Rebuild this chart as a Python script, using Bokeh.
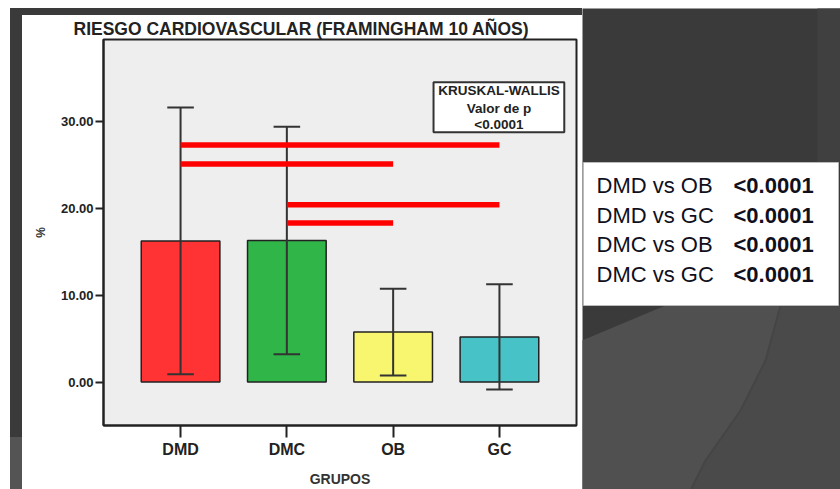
from bokeh.plotting import figure
from bokeh.layouts import row, column
from bokeh.models import Range1d, FixedTicker, NumeralTickFormatter, ColumnDataSource, Spacer
from bokeh.core.properties import value
from bokeh.embed import file_html
from bokeh.resources import INLINE

# ---------------- data ----------------
groups = ["DMD", "DMC", "OB", "GC"]
means = [16.25, 16.3, 5.75, 5.2]
errors = [15.35, 13.1, 5.0, 6.05]
bar_colors = ["#ff3333", "#2fb548", "#f8f56e", "#47c3c7"]

comp_from = ["DMD", "DMD", "DMC", "DMC"]
comp_to = ["GC", "OB", "GC", "OB"]
comp_level = [27.3, 25.1, 20.4, 18.3]

y_ticks = [0, 10, 20, 30]

kw_lines = ["KRUSKAL-WALLIS", "Valor de p", "<0.0001"]

pair_labels = ["DMD vs OB", "DMD vs GC", "DMC vs OB", "DMC vs GC"]
pair_pvalues = ["<0.0001", "<0.0001", "<0.0001", "<0.0001"]

FONT = "Liberation Sans"
DARK = "#3a3a3a"
LIGHT = "#505050"

# ---------------- main chart ----------------
xpos = [i + 1 for i in range(len(groups))]
idx = {g: i + 1 for i, g in enumerate(groups)}

p = figure(width=560, height=474,
           x_range=Range1d(0.275, 4.725), y_range=Range1d(-5.0, 39.43),
           output_backend="svg", toolbar_location=None,
           min_border_left=81, min_border_right=6,
           min_border_top=22, min_border_bottom=61,
           background_fill_color="#eeeeee", border_fill_color="white",
           outline_line_color="#222222", outline_line_width=2)
p.grid.visible = False

p.title.text = "RIESGO CARDIOVASCULAR (FRAMINGHAM 10 AÑOS)"
p.title.align = "left"
p.title.offset = -30
p.title.standoff = 2
p.title.text_font = FONT
p.title.text_font_size = "17.5px"
p.title.text_font_style = "bold"
p.title.text_color = "#222222"

src = ColumnDataSource(dict(
    x=xpos, top=means, color=bar_colors,
    lower=[m - e for m, e in zip(means, errors)],
    upper=[m + e for m, e in zip(means, errors)],
    cap_l=[x - 0.125 for x in xpos], cap_r=[x + 0.125 for x in xpos],
))
p.vbar(x="x", top="top", bottom=0, width=0.74, fill_color="color",
       line_color="#222222", line_width=1.5, source=src)
p.segment(x0="x", x1="x", y0="lower", y1="upper", line_color="#333333",
          line_width=2, source=src)
p.segment(x0="cap_l", x1="cap_r", y0="upper", y1="upper", line_color="#333333",
          line_width=2, source=src)
p.segment(x0="cap_l", x1="cap_r", y0="lower", y1="lower", line_color="#333333",
          line_width=2, source=src)

# significance lines
p.segment(x0=[idx[a] for a in comp_from], x1=[idx[b] for b in comp_to],
          y0=comp_level, y1=comp_level, line_color="#ff0000", line_width=5.5,
          line_cap="butt")

# Kruskal-Wallis box
kw_left, kw_right, kw_top, kw_bottom = 3.38, 4.61, 34.5, 28.75
p.quad(left=[kw_left], right=[kw_right], top=[kw_top], bottom=[kw_bottom],
       fill_color="white", line_color="#333333", line_width=2)
kw_y = [33.52, 31.5, 29.66]
p.text(x=[(kw_left + kw_right) / 2] * 3, y=kw_y, text=kw_lines,
       text_font=value(FONT), text_font_size="13.5px", text_font_style="bold",
       text_align="center", text_baseline="middle", text_color="#222222")

# axes
p.yaxis.ticker = FixedTicker(ticks=y_ticks)
p.yaxis.formatter = NumeralTickFormatter(format="0.00")
p.xaxis.ticker = FixedTicker(ticks=xpos)
p.xaxis.major_label_overrides = {x: g for x, g in zip(xpos, groups)}

for ax in (p.xaxis[0], p.yaxis[0]):
    ax.axis_line_color = "#222222"
    ax.axis_line_width = 2
    ax.major_tick_line_color = "#222222"
    ax.major_tick_line_width = 2
    ax.major_tick_in = 0
    ax.minor_tick_line_color = None
    ax.major_label_text_font = FONT
    ax.major_label_text_font_style = "bold"
    ax.major_label_text_color = "#222222"
    ax.axis_label_text_font = FONT
    ax.axis_label_text_font_style = "bold"
    ax.axis_label_text_color = "#333333"

p.yaxis.major_tick_out = 8
p.yaxis.major_label_standoff = 2
p.yaxis.major_label_text_font_size = "13px"
p.yaxis.axis_label = "%"
p.yaxis.axis_label_text_font_size = "12px"
p.yaxis.axis_label_standoff = 10

p.xaxis.major_tick_out = 12
p.xaxis.major_label_standoff = 3
p.xaxis.major_label_text_font_size = "16px"
p.xaxis.axis_label = "GRUPOS"
p.xaxis.axis_label_text_font_size = "14px"
p.xaxis.axis_label_standoff = 10

# ---------------- decorative slide frame ----------------
top_white = Spacer(width=840, height=8)
top_dark = Spacer(width=560, height=7, styles={"background-color": DARK})
left_white = Spacer(width=10, height=481)
left_dark = Spacer(width=12, height=481, styles={
    "background": f"linear-gradient(to bottom, {DARK} 0px, {DARK} 429px, #545454 429px, #545454 481px)"})

right = figure(width=258, height=481, x_range=Range1d(0, 258), y_range=Range1d(489, 8),
               output_backend="svg", toolbar_location=None, min_border=0,
               x_axis_location=None, y_axis_location=None,
               outline_line_color=None, background_fill_color=DARK,
               border_fill_color=DARK)
right.grid.visible = False
right.quad(left=[235], right=[263], top=[0], bottom=[162], fill_color="#404040", line_color=None)
right.patch(x=[-5, 83, 263, 263, -5], y=[342, 305, 305, 494, 494], fill_color=LIGHT, line_color=None)
right.patch(x=[198, 263, 263, 106, 123, 158, 183],
            y=[305, 305, 494, 494, 460, 410, 360], fill_color="#4a4a4a",
            line_color="#454545", line_width=2)
right.quad(left=[1], right=[256], top=[162], bottom=[305], fill_color="white",
           line_color="#bbbbbb", line_width=1)
row_y = [185, 214.5, 244, 273.5]
right.text(x=[14] * 4, y=row_y, text=pair_labels, text_font=value(FONT),
           text_font_size="22px", text_baseline="middle", text_color="#10101c")
right.text(x=[151] * 4, y=row_y, text=pair_pvalues, text_font=value(FONT),
           text_font_size="22px", text_font_style="bold", text_baseline="middle",
           text_color="#10101c")

layout = column(top_white,
                row(left_white, left_dark, column(top_dark, p, spacing=0), right, spacing=0),
                spacing=0)

open("out.html", "w").write(file_html(layout, INLINE))
